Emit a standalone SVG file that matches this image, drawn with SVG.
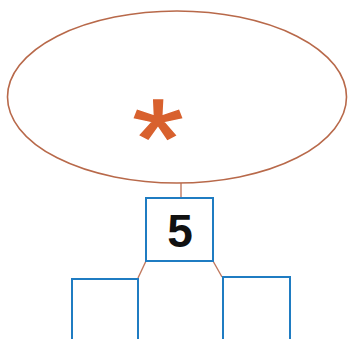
<svg xmlns="http://www.w3.org/2000/svg" width="348" height="339" viewBox="0 0 348 339">
<style>
.box{fill:#fff;stroke:#1f7cc2;stroke-width:2}
.conn{stroke:#c0785e;stroke-width:1.4;fill:none}
.num{font-family:"Liberation Sans",Arial,sans-serif;font-weight:bold;font-size:46px;fill:#111;text-anchor:middle}
.star{font-family:"Liberation Sans",Arial,sans-serif;font-weight:normal;font-size:111px;fill:#d8612e;stroke:#d8612e;stroke-width:1.4;text-anchor:middle}
</style>
<rect width="348" height="339" fill="#fff"/>
<g id="connectors">
<line class="conn" x1="181" y1="183" x2="181" y2="198"/>
<line class="conn" x1="146" y1="261" x2="138" y2="278"/>
<line class="conn" x1="213" y1="261" x2="222" y2="277"/>
</g>
<g id="ellipse">
<ellipse cx="177" cy="97" rx="169.5" ry="86" fill="#fff" stroke="#b8694a" stroke-width="1.6"/>
<text class="star" x="158" y="177" transform="translate(158,0) scale(1.18,1) translate(-158,0)">*</text>
</g>
<g id="top">
<rect class="box" x="146" y="198" width="67" height="63"/>
<text class="num" x="180" y="247">5</text>
</g>
<g id="left">
<rect class="box" x="72" y="279" width="66" height="70"/>
</g>
<g id="right">
<rect class="box" x="223" y="277" width="67" height="72"/>
</g>
</svg>
